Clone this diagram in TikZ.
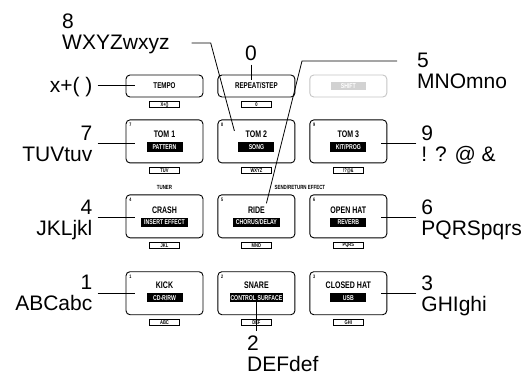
\documentclass[tikz,border=0pt]{standalone}
\usepackage{fontspec}
\setmainfont{Liberation Sans}
\newfontfamily\padfont[FakeStretch=0.74]{Liberation Sans Bold}
\usetikzlibrary{positioning}

\begin{document}
\begin{tikzpicture}[
  x=1pt,y=1pt,
  padbase/.style={draw,line width=0.9pt,rounded corners=4pt,minimum width=77pt},
  pad/.style 2 args={padbase,minimum height=43pt,
                     label={[padnum]north west:#1},label={[keybox]below:#2}},
  toppad/.style={padbase,minimum height=22pt,font=\padfont\fontsize{8.4}{9}\selectfont,
                 label={[keybox]below:#1}},
  padnum/.style={anchor=north west,xshift=3.5pt,yshift=-3.5pt,inner sep=0pt,
                 font=\padfont\fontsize{5}{5}\selectfont},
  keybox/.style={draw,sharp corners,line width=0.8pt,label distance=4pt,minimum width=30pt,
                 minimum height=5.5pt,inner sep=0pt,font=\padfont\fontsize{5.5}{5}\selectfont},
  padtitle/.style={inner sep=0pt,font=\padfont\fontsize{9.5}{10}\selectfont},
  fnbox/.style={fill=black,text=white,minimum width=36pt,minimum height=9.5pt,inner xsep=3pt,
                inner ysep=0pt,font=\padfont\fontsize{7}{8}\selectfont},
  grouplabel/.style={inner sep=0pt,font=\padfont\fontsize{6}{6}\selectfont},
  callout/.style={inner xsep=5pt,inner ysep=4pt,text depth=0pt,font=\fontsize{21}{21}\selectfont},
  link/.style={line width=0.8pt},
]
  \useasboundingbox[fill=white] (0,0) rectangle (532,-376);

  % top row
  \node[toppad={X+()}] (tempo) at (164.5,-86) {TEMPO};
  \node[toppad={0},right=14pt of tempo] (repeat) {REPEAT/STEP};
  \node[padbase,draw=gray!45,minimum height=22pt,right=14pt of repeat] (shift) {};
  \node[fnbox,fill=gray!35,minimum width=35pt,minimum height=7.5pt] (shiftf) at (shift) {SHIFT};

  % pads
  \node[pad={7}{TUV},below=22pt of tempo] (tom1) {};
  \node[pad={8}{WXYZ},right=14pt of tom1] (tom2) {};
  \node[pad={9}{!?@\&},right=14pt of tom2] (tom3) {};
  \node[pad={4}{JKL},below=31pt of tom1] (crash) {};
  \node[pad={5}{MNO},right=14pt of crash] (ride) {};
  \node[pad={6}{PQRS},right=14pt of ride] (ohat) {};
  \node[pad={1}{ABC},below=33pt of crash] (kick) {};
  \node[pad={2}{DEF},right=14pt of kick] (snare) {};
  \node[pad={3}{GHI},right=14pt of snare] (chat) {};

  \node[padtitle] (tom1t) at ([yshift=7pt]tom1.center) {TOM 1};
  \node[fnbox] (tom1f) at ([yshift=-5.5pt]tom1.center) {PATTERN};
  \node[padtitle] (tom2t) at ([yshift=7pt]tom2.center) {TOM 2};
  \node[fnbox] (tom2f) at ([yshift=-5.5pt]tom2.center) {SONG};
  \node[padtitle] (tom3t) at ([yshift=7pt]tom3.center) {TOM 3};
  \node[fnbox] (tom3f) at ([yshift=-5.5pt]tom3.center) {KIT/PROG};
  \node[padtitle] (crasht) at ([yshift=6.5pt]crash.center) {CRASH};
  \node[fnbox,minimum width=46pt] (crashf) at ([yshift=-6pt]crash.center) {INSERT EFFECT};
  \node[padtitle] (ridet) at ([yshift=6.5pt]ride.center) {RIDE};
  \node[fnbox] (ridef) at ([yshift=-6pt]ride.center) {CHORUS/DELAY};
  \node[padtitle] (ohatt) at ([yshift=6.5pt]ohat.center) {OPEN HAT};
  \node[fnbox] (ohatf) at ([yshift=-6pt]ohat.center) {REVERB};
  \node[padtitle] (kickt) at ([yshift=7.5pt]kick.center) {KICK};
  \node[fnbox] (kickf) at ([yshift=-4.5pt]kick.center) {CD-R/RW};
  \node[padtitle] (snaret) at ([yshift=7.5pt]snare.center) {SNARE};
  \node[fnbox,inner xsep=1pt] (snaref) at ([yshift=-4.5pt]snare.center) {CONTROL SURFACE};
  \node[padtitle] (chatt) at ([yshift=7.5pt]chat.center) {CLOSED HAT};
  \node[fnbox] (chatf) at ([yshift=-4.5pt]chat.center) {USB};

  \node[grouplabel,above=5pt of crash] (tuner) {TUNER};
  \node[grouplabel,above right=5pt and 18pt of ride.north] (sendret) {SEND/RETURN EFFECT};

  % callouts
  \node[callout,align=right,left=28pt of tempo,yshift=1pt] (cx) {x+( )};
  \node[callout,align=right,left=28pt of tom1,yshift=-2pt] (c7) {7\\TUVtuv};
  \node[callout,align=right,left=28pt of crash,yshift=-1pt] (c4) {4\\JKLjkl};
  \node[callout,align=right,left=28pt of kick] (c1) {1\\ABCabc};
  \node[callout,align=left,right=29pt of tom3,yshift=-2pt] (c9) {9\\! ? @ \&};
  \node[callout,align=left,right=29pt of ohat,yshift=-1pt] (c6) {6\\PQRSpqrs};
  \node[callout,align=left,right=29pt of chat] (c3) {3\\GHIghi};
  \node[callout,align=left,anchor=north west] (c8) at (57,-10) {8\\WXYZwxyz};
  \node[callout] (c0) at (251,-53) {0};
  \node[callout,align=left,anchor=north west] (c5) at (412,-49) {5\\MNOmno};
  \node[callout,align=left,anchor=north west,inner ysep=1pt] (c2) at (242,-335) {2\\DEFdef};

  \draw[link,shorten >=-9pt] (cx.east) -- (cx.east -| tempo.west);
  \draw[link,shorten >=-9pt] (c7.east) -- (c7.east -| tom1.west);
  \draw[link,shorten >=-9pt] (c4.east) -- (c4.east -| crash.west);
  \draw[link,shorten >=-9pt] (c1.east) -- (c1.east -| kick.west);
  \draw[link,shorten >=-6pt] (c9.west) -- (c9.west -| tom3.east);
  \draw[link,shorten >=-6pt] (c6.west) -- (c6.west -| ohat.east);
  \draw[link,shorten >=-6pt] (c3.west) -- (c3.west -| chat.east);
  \draw[link] ([xshift=17pt,yshift=11pt]c8.south east) -- ++(19,0)
              -- ([xshift=-22pt,yshift=10.5pt]tom2.center);
  \draw[link,shorten >=-5pt] (c0.south) -- (c0.south |- repeat.north);
  \draw[link] ([xshift=-15pt,yshift=-12pt]c5.north west) -- ++(-95,0)
              -- ([xshift=10pt,yshift=13pt]ride.center);
  \draw[link,shorten >=4pt] ([yshift=-6pt]snare.center) -- (snare.center |- c2.north);
\end{tikzpicture}
\end{document}
